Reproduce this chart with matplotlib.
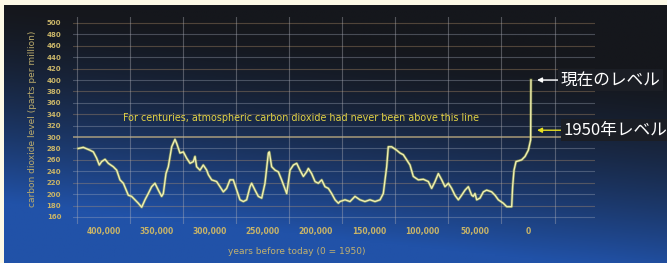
import numpy as np
import matplotlib.pyplot as plt
from matplotlib.patches import Rectangle

# CO2 record (years before 1950, ppm)
years = [424200, 419500, 413200, 410000, 406900, 404400, 402200, 399000, 395900, 391200,
         388000, 384900, 381700, 377000, 373900, 370700, 367600, 364400, 361300, 358200,
         355000, 351900, 348700, 345600, 344000, 341500, 339300, 336100, 333000, 331400,
         328300, 325100, 322000, 318800, 315700, 314100, 312600, 309400, 306300, 303100,
         301500, 298400, 293700, 290500, 287400, 284300, 281100, 278000, 274800, 271700,
         268500, 265400, 262200, 260700, 257500, 254400, 251200, 248100, 244900, 244000,
         241800, 238600, 235500, 232400, 227600, 224500, 221300, 218200, 215100, 211900,
         208800, 207200, 204100, 200900, 197800, 194600, 191500, 188300, 185200, 182000,
         178900, 177400, 172600, 167900, 163200, 158500, 153800, 149100, 144300, 139600,
         136500, 133300, 131800, 128600, 123900, 120700, 117600, 114500, 111300, 108200,
         103500, 98700, 94000, 90900, 87700, 84600, 81400, 78300, 75100, 72000,
         68900, 65700, 62600, 59400, 56300, 53100, 51600, 50000, 48400, 45300,
         42100, 39000, 34300, 31100, 28000, 23300, 20100, 17000, 15400, 14500,
         13200, 11300, 6000, 2800, -300, -2500, -2800]
co2 = [280, 282, 277, 274, 263, 251, 257, 261, 254, 248,
       242, 225, 219, 198, 196, 190, 184, 177, 190, 201,
       213, 219, 207, 196, 201, 236, 248, 283, 296, 289,
       272, 274, 263, 254, 257, 266, 248, 242, 251, 242,
       234, 225, 222, 213, 204, 210, 225, 225, 207, 190,
       187, 190, 213, 219, 207, 196, 193, 219, 272, 274,
       248, 242, 239, 225, 201, 242, 251, 254, 242, 231,
       239, 245, 236, 222, 219, 225, 213, 210, 201, 190,
       184, 187, 190, 187, 196, 190, 187, 190, 187, 190,
       201, 248, 283, 283, 277, 272, 269, 260, 251, 231,
       225, 226, 222, 210, 222, 236, 225, 213, 219, 210,
       198, 190, 198, 207, 213, 198, 196, 201, 190, 193,
       204, 207, 204, 198, 190, 184, 178, 178, 178, 213,
       242, 257, 260, 266, 277, 295, 400]

y_ticks = list(range(160, 501, 20))
x_ticks = [400000, 350000, 300000, 250000, 200000, 150000, 100000, 50000, 0]
x_labels = ['400,000', '350,000', '300,000', '250,000', '200,000',
            '150,000', '100,000', '50,000', '0']
x_grid = [425000, 375000, 325000, 275000, 225000, 175000, 125000, 75000, 25000, -25000]

level_now = 400
level_1950 = 312

jp_font = ['Noto Sans CJK JP', 'DejaVu Sans']

W, H = 667, 263
fig = plt.figure(figsize=(W / 100, H / 100), dpi=100)

# background gradient: dark at the top right, blue at the bottom left
bg = fig.add_axes([0, 0, 1, 1], zorder=0)
yy, xx = np.mgrid[0:1:200j, 0:1:300j]
t = np.clip(yy * 1.3 - 0.35 + 0.35 * (1 - xx), 0, 1) ** 1.5
dark = np.array([0x15, 0x17, 0x1c]) / 255
blue = np.array([0x21, 0x52, 0xa8]) / 255
grad = dark[None, None, :] * (1 - t[..., None]) + blue[None, None, :] * t[..., None]
bg.imshow(grad, extent=[0, 1, 0, 1], aspect='auto', origin='upper')
bg.set_xlim(0, 1)
bg.set_ylim(0, 1)
bg.axis('off')
bg.add_patch(Rectangle((0, 1 - 5 / H), 1, 5 / H, color='#fdf9e6', lw=0))
bg.add_patch(Rectangle((0, 0), 4 / W, 1, color='#fdf9e6', lw=0))

ax = fig.add_axes([73 / W, 1 - 224 / H, (595 - 73) / W, (224 - 17) / H], zorder=1)
ax.patch.set_alpha(0)
ax.set_xlim(429200, -63200)
ax.set_ylim(147.6, 510.5)

for i, v in enumerate(y_ticks):
    if v == 300:
        ax.axhline(v, color='#d8c088', lw=1.1, alpha=0.75, zorder=1)
    else:
        ax.axhline(v, color='#c09a70' if i % 2 else '#a8b0c0', lw=0.8, alpha=0.35, zorder=1)
for g in x_grid:
    ax.axvline(g, color='#b0b0b8', lw=0.8, alpha=0.4, zorder=1)

ax.plot(years, co2, color='#b8c050', lw=2.0, alpha=0.5, zorder=2)
ax.plot(years, co2, color='#f0f0b0', lw=1.0, zorder=3)

ax.text(214200, 333.5,
        'For centuries, atmospheric carbon dioxide had never been above this line',
        color='#e2d244', fontsize=6.9, ha='center', va='center', zorder=4)

ax.set_yticks(y_ticks)
ax.set_xticks(x_ticks)
ax.set_xticklabels(x_labels)
ax.tick_params(axis='both', length=0, colors='#c8b468')
ax.tick_params(axis='y', labelsize=5, pad=8.5)
ax.tick_params(axis='x', labelsize=5.5, pad=2.5)
for lab in ax.get_xticklabels() + ax.get_yticklabels():
    lab.set_fontweight('bold')
for s in ax.spines.values():
    s.set_visible(False)

fig.text(33 / W, 1 - 119 / H, 'carbon dioxide level (parts per million)',
         rotation=90, color='#bcac6c', fontsize=6.5, ha='center', va='center')
fig.text(297 / W, 1 - 251 / H, 'years before today (0 = 1950)',
         color='#c0b070', fontsize=6.5, ha='center', va='center')

box = dict(boxstyle='square,pad=0.15', fc='#1b1e25', ec='none')
ax.annotate('現在のレベル', xy=(-8500, level_now), xytext=(-30500, level_now),
            fontsize=12, color='white', family=jp_font, ha='left', va='center',
            bbox=box, annotation_clip=False, zorder=5,
            arrowprops=dict(arrowstyle='-|>', color='white', lw=1, mutation_scale=7,
                            shrinkA=0, shrinkB=0))
ax.annotate('1950年レベル', xy=(-8500, level_1950), xytext=(-33200, level_1950),
            fontsize=12, color='white', family=jp_font, ha='left', va='center',
            bbox=box, annotation_clip=False, zorder=5,
            arrowprops=dict(arrowstyle='-|>', color='#e8e020', lw=1, mutation_scale=7,
                            shrinkA=0, shrinkB=0))

fig.savefig('out.png', dpi=100)
